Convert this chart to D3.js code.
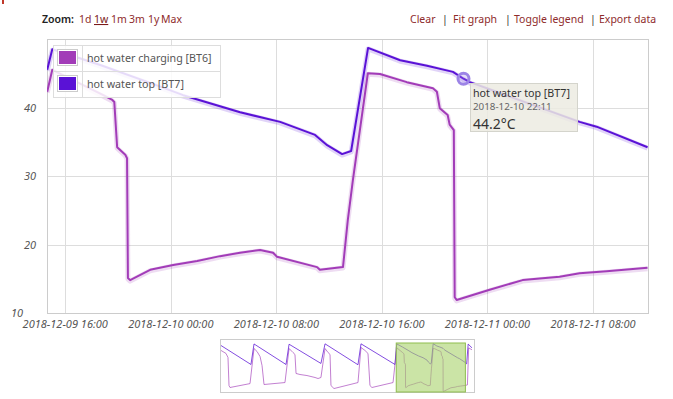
<!DOCTYPE html>
<meta charset="utf-8">
<script src="https://d3js.org/d3.v7.min.js"></script>
<style>
body { margin: 0; background: #fff; }
svg { font-family: "Noto Sans", "Liberation Sans", sans-serif; }
.link { fill: #8e2b2b; font-size: 10.5px; }
.sep { fill: #333; font-size: 10.5px; }
.axis-label { fill: #555; font-size: 11px; font-style: italic; }
.grid line { stroke: #ddd; shape-rendering: crispEdges; }
.legend-text { fill: #555; font-size: 10.7px; }
</style>

<svg id="chart" width="673" height="399"></svg>

<script>
var parse = d3.timeParse("%Y-%m-%d %H:%M");

// zoomed window
var bt6 = [
  ["2018-12-09 14:38", 42.3], ["2018-12-09 15:01", 45.5], ["2018-12-09 18:53", 41.8],
  ["2018-12-09 19:34", 41.1], ["2018-12-09 19:43", 40.8], ["2018-12-09 19:56", 34.2],
  ["2018-12-09 20:33", 33.1], ["2018-12-09 20:41", 32.6], ["2018-12-09 20:45", 15.1],
  ["2018-12-09 20:55", 14.8], ["2018-12-09 22:26", 16.3], ["2018-12-10 00:11", 17.0],
  ["2018-12-10 02:00", 17.6], ["2018-12-10 03:44", 18.3], ["2018-12-10 05:15", 18.8],
  ["2018-12-10 06:46", 19.2], ["2018-12-10 07:45", 18.8], ["2018-12-10 08:03", 18.2],
  ["2018-12-10 11:05", 16.7], ["2018-12-10 11:18", 16.3], ["2018-12-10 13:03", 16.7],
  ["2018-12-10 13:25", 23.6], ["2018-12-10 13:48", 29.4], ["2018-12-10 14:56", 45.0],
  ["2018-12-10 15:51", 44.9], ["2018-12-10 17:53", 43.7], ["2018-12-10 19:52", 42.8],
  ["2018-12-10 20:10", 42.3], ["2018-12-10 20:23", 39.9], ["2018-12-10 20:59", 38.9],
  ["2018-12-10 21:08", 37.5], ["2018-12-10 21:27", 36.7], ["2018-12-10 21:31", 12.3],
  ["2018-12-10 21:40", 11.9], ["2018-12-11 00:10", 13.4], ["2018-12-11 02:40", 14.8],
  ["2018-12-11 05:28", 15.3], ["2018-12-11 06:59", 15.8], ["2018-12-11 09:02", 16.1],
  ["2018-12-11 12:08", 16.6]
];
var bt7 = [
  ["2018-12-09 14:38", 45.5], ["2018-12-09 15:01", 48.5], ["2018-12-09 18:39", 46.2],
  ["2018-12-09 22:26", 43.6], ["2018-12-10 00:56", 41.8], ["2018-12-10 05:15", 39.3],
  ["2018-12-10 08:17", 37.9], ["2018-12-10 10:56", 36.0], ["2018-12-10 11:51", 34.5],
  ["2018-12-10 12:59", 33.2], ["2018-12-10 13:40", 33.65], ["2018-12-10 14:57", 48.7],
  ["2018-12-10 17:23", 46.9], ["2018-12-10 19:25", 46.1], ["2018-12-10 21:23", 45.2],
  ["2018-12-10 22:11", 44.2], ["2018-12-10 22:40", 43.7], ["2018-12-11 06:59", 37.9],
  ["2018-12-11 08:16", 37.2], ["2018-12-11 12:08", 34.2]
];

// rest of the week, only seen in the overview strip
var bt6Before = [
  ["2018-12-04 19:10", 43.5], ["2018-12-04 22:27", 41.2], ["2018-12-04 23:46", 38.1],
  ["2018-12-05 00:26", 16.5], ["2018-12-05 01:05", 15.0], ["2018-12-05 14:16", 18.0],
  ["2018-12-05 16:54", 45.0], ["2018-12-05 18:54", 42.7], ["2018-12-05 20:54", 38.8],
  ["2018-12-05 22:12", 31.9], ["2018-12-05 23:30", 17.3], ["2018-12-06 13:18", 18.8],
  ["2018-12-06 16:00", 45.0], ["2018-12-06 18:36", 41.9], ["2018-12-06 19:54", 40.4],
  ["2018-12-06 20:36", 25.8], ["2018-12-06 23:12", 25.0], ["2018-12-07 03:48", 24.2],
  ["2018-12-07 09:06", 22.7], ["2018-12-07 11:06", 21.9], ["2018-12-07 13:00", 22.7],
  ["2018-12-07 15:42", 45.0], ["2018-12-07 17:42", 41.9], ["2018-12-07 19:00", 40.4],
  ["2018-12-07 19:36", 16.5], ["2018-12-07 21:36", 14.2], ["2018-12-08 13:24", 18.8],
  ["2018-12-08 15:24", 45.8], ["2018-12-08 18:00", 43.5], ["2018-12-08 20:00", 41.2],
  ["2018-12-08 21:18", 16.5], ["2018-12-08 22:36", 15.0], ["2018-12-09 12:30", 18.8]
];
var bt6After = [["2018-12-11 13:30", 17.0], ["2018-12-11 14:20", 45.5], ["2018-12-11 16:30", 44.0]];
var bt7Before = [
  ["2018-12-04 19:10", 47.3], ["2018-12-05 14:54", 32.7], ["2018-12-05 16:54", 48.5],
  ["2018-12-06 14:00", 32.7], ["2018-12-06 16:00", 48.3], ["2018-12-07 13:00", 33.5],
  ["2018-12-07 15:42", 48.6], ["2018-12-08 13:24", 32.5], ["2018-12-08 15:24", 48.6],
  ["2018-12-09 13:48", 32.7]
];
var bt7After = [["2018-12-11 13:00", 33.2], ["2018-12-11 14:00", 48.4], ["2018-12-11 16:30", 45.5]];

var seriesNames = ["hot water charging [BT6]", "hot water top [BT7]"];
var seriesColors = ["#a23cb8", "#5a12d6"];
var yTicks = [10, 20, 30, 40];
var xTicks = ["2018-12-09 16:00", "2018-12-10 00:00", "2018-12-10 08:00",
              "2018-12-10 16:00", "2018-12-11 00:00", "2018-12-11 08:00"];
var viewRange = ["2018-12-09 14:37", "2018-12-11 12:10"];
var weekRange = ["2018-12-04 18:30", "2018-12-11 18:30"];
var hover = { series: 1, time: "2018-12-10 22:11", value: 44.2 };

var svg = d3.select("#chart");

// small red mark in the corner
svg.append("rect").attr("x", 2).attr("y", 0).attr("width", 2).attr("height", 4).attr("fill", "#c0392b");

// header links
svg.append("text").attr("x", 42).attr("y", 23).style("font-size", "10.5px").style("fill", "#222")
  .style("font-weight", "600").text("Zoom:");
var zoomLinks = [["1d", 79], ["1w", 94], ["1m", 111], ["3m", 129], ["1y", 148], ["Max", 161]];
svg.selectAll(".zl").data(zoomLinks).enter().append("text")
  .attr("class", "link")
  .attr("x", function(d){ return d[1] })
  .attr("y", 23)
  .style("text-decoration", function(d){ return d[0] == "1w" ? "underline" : null })
  .style("fill", function(d){ return d[0] == "1w" ? "#7a1a1a" : null })
  .text(function(d){ return d[0] });
var rightLinks = [["Clear", 410, "link"], ["|", 442, "sep"], ["Fit graph", 453, "link"], ["|", 505, "sep"],
                  ["Toggle legend", 514, "link"], ["|", 590, "sep"], ["Export data", 599, "link"]];
svg.selectAll(".rl").data(rightLinks).enter().append("text")
  .attr("class", function(d){ return d[2] })
  .attr("x", function(d){ return d[1] })
  .attr("y", 23)
  .text(function(d){ return d[0] });

// main plot
var x = d3.scaleTime().domain(viewRange.map(parse)).range([47, 648]);
var y = d3.scaleLinear().domain([10, 50]).range([313, 39]);

var grid = svg.append("g").attr("class", "grid");
grid.selectAll(".gx").data(xTicks).enter().append("line")
  .attr("x1", function(d){ return Math.round(x(parse(d))) + 0.5 })
  .attr("x2", function(d){ return Math.round(x(parse(d))) + 0.5 })
  .attr("y1", 39).attr("y2", 313);
grid.selectAll(".gy").data(yTicks).enter().append("line")
  .attr("x1", 47).attr("x2", 648)
  .attr("y1", function(d){ return Math.round(y(d)) + 0.5 })
  .attr("y2", function(d){ return Math.round(y(d)) + 0.5 });
svg.append("rect").attr("x", 47.5).attr("y", 39.5).attr("width", 601).attr("height", 274)
  .attr("fill", "none").attr("stroke", "#ccc");

svg.selectAll(".yl").data(yTicks).enter().append("text")
  .attr("class", "axis-label")
  .attr("x", function(d){ return d == 10 ? 23 : 36 })
  .attr("y", function(d){ return y(d) + 4 })
  .attr("text-anchor", "end")
  .text(function(d){ return d });
svg.selectAll(".xl").data(xTicks).enter().append("text")
  .attr("class", "axis-label")
  .attr("x", function(d){ return x(parse(d)) })
  .attr("y", 328)
  .attr("text-anchor", "middle")
  .text(function(d){ return d });

svg.append("clipPath").attr("id", "plotclip").append("rect")
  .attr("x", 47).attr("y", 39).attr("width", 601).attr("height", 274);

var line = d3.line().x(function(d){ return x(parse(d[0])) }).y(function(d){ return y(d[1]) });
var plot = svg.append("g").attr("clip-path", "url(#plotclip)");
[bt6, bt7].forEach(function(s, i) {
  plot.append("path").attr("d", line(s)).attr("fill", "none")
    .attr("stroke", seriesColors[i]).attr("stroke-opacity", 0.18).attr("stroke-width", 5)
    .attr("stroke-linejoin", "round").attr("transform", "translate(0,1)");
  plot.append("path").attr("d", line(s)).attr("fill", "none")
    .attr("stroke", seriesColors[i]).attr("stroke-width", 2).attr("stroke-linejoin", "round");
});

// legend
var lg = svg.append("g");
lg.append("rect").attr("x", 53.5).attr("y", 45.5).attr("width", 167).attr("height", 52)
  .attr("fill", "#fff").attr("fill-opacity", 0.85).attr("stroke", "#ddd");
lg.append("line").attr("x1", 53).attr("x2", 220).attr("y1", 71.5).attr("y2", 71.5).attr("stroke", "#ddd");
lg.append("line").attr("x1", 82.5).attr("x2", 82.5).attr("y1", 45).attr("y2", 97).attr("stroke", "#ddd");
seriesNames.forEach(function(n, i) {
  var top = 45 + i * 26;
  lg.append("rect").attr("x", 57.5).attr("y", top + 4.5).attr("width", 20).attr("height", 16)
    .attr("fill", "#fff").attr("stroke", "#ccc");
  lg.append("rect").attr("x", 59).attr("y", top + 6).attr("width", 17).attr("height", 13)
    .attr("fill", seriesColors[i]);
  lg.append("text").attr("class", "legend-text").attr("x", 87).attr("y", top + 17).text(n);
});

// hover marker and tooltip
var hx = x(parse(hover.time)), hy = y(hover.value);
svg.append("circle").attr("cx", hx).attr("cy", hy).attr("r", 5.5)
  .attr("fill", "#9c84e6").attr("fill-opacity", 0.25).attr("stroke", "#9c84e6").attr("stroke-width", 3);
var tip = svg.append("g");
tip.append("rect").attr("x", 470.5).attr("y", 83.5).attr("width", 107).attr("height", 48)
  .attr("fill", "#ecebe2").attr("fill-opacity", 0.85).attr("stroke", "#d4d4cc");
tip.append("text").attr("x", 473).attr("y", 97).style("font-size", "10.7px").style("fill", "#333")
  .text(seriesNames[hover.series]);
tip.append("text").attr("x", 473).attr("y", 110).style("font-size", "9.8px").style("fill", "#666")
  .text(hover.time);
tip.append("text").attr("x", 473).attr("y", 129).style("font-size", "14px").style("fill", "#333")
  .text(d3.format(".1f")(hover.value) + "\u00b0C");

// overview strip
var ox = d3.scaleTime().domain(weekRange.map(parse)).range([220, 475]);
var oy = d3.scaleLinear().domain([10, 50]).range([394, 342]);
svg.append("rect").attr("x", 220.5).attr("y", 339.5).attr("width", 254).attr("height", 53)
  .attr("fill", "#fff").attr("stroke", "#ccc");
svg.append("clipPath").attr("id", "ovclip").append("rect")
  .attr("x", 221).attr("y", 340).attr("width", 253).attr("height", 52);
var oline = d3.line().x(function(d){ return ox(parse(d[0])) }).y(function(d){ return oy(d[1]) });
var ov = svg.append("g").attr("clip-path", "url(#ovclip)");
[bt6Before.concat(bt6, bt6After), bt7Before.concat(bt7, bt7After)].forEach(function(s, i) {
  ov.append("path").attr("d", oline(s)).attr("fill", "none")
    .attr("stroke", seriesColors[i]).attr("stroke-width", 1).attr("stroke-opacity", i == 0 ? 0.65 : 0.75);
});
var sx0 = ox(parse(viewRange[0])), sx1 = ox(parse(viewRange[1]));
svg.append("rect").attr("x", sx0).attr("y", 343).attr("width", sx1 - sx0).attr("height", 49)
  .attr("fill", "#a8d26a").attr("fill-opacity", 0.6).attr("stroke", "#8fbd4f").attr("stroke-width", 1);
</script>
